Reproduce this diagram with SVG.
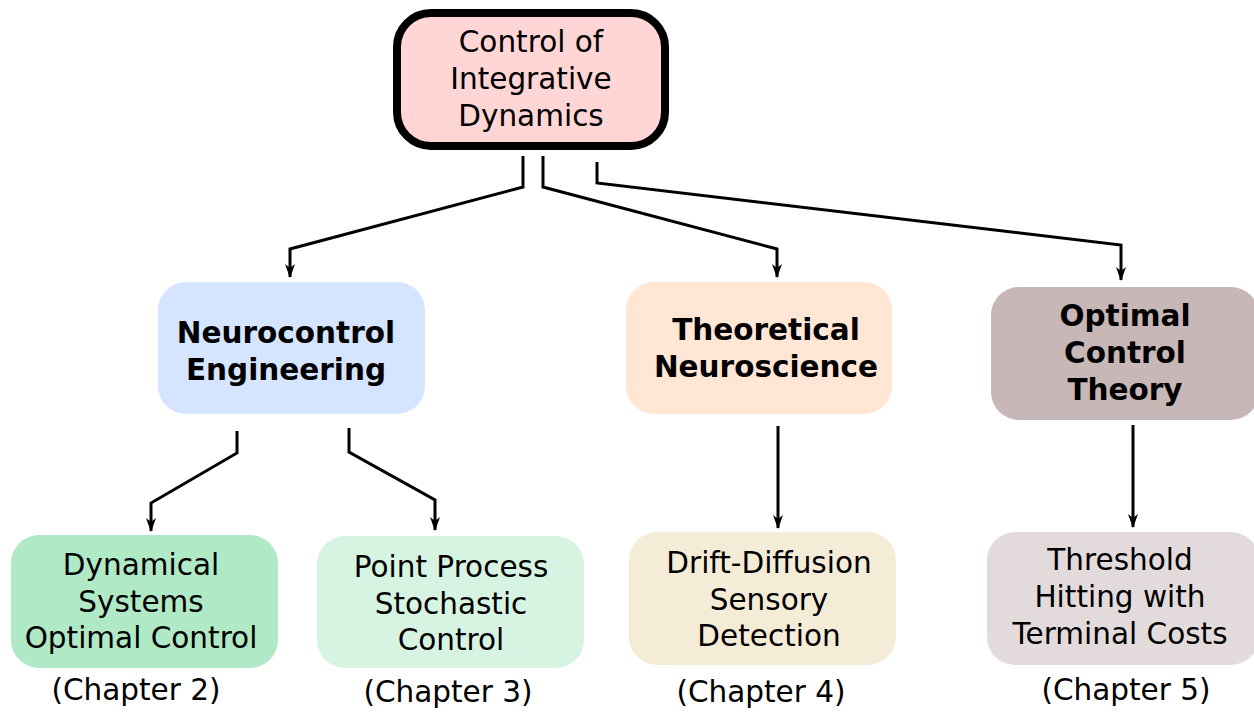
<svg xmlns="http://www.w3.org/2000/svg" width="1254" height="713" viewBox="0 0 1254 713">
<style>
text{font-family:"DejaVu Sans","Liberation Sans",sans-serif;font-size:29.5px;fill:#000;text-anchor:middle}
.b{font-weight:bold}
.c{fill:none;stroke:#000;stroke-width:3;stroke-linejoin:miter}
</style>
<defs>
<marker id="a" markerUnits="userSpaceOnUse" markerWidth="14" markerHeight="10" refX="13" refY="5" orient="auto" viewBox="0 0 14 10">
<path d="M0,0 L4,5 L0,10 L14,5 Z" fill="#000"/>
</marker>
</defs>
<g id="connectors">
<path class="c" d="M523,156 V187 L290,249 V277" marker-end="url(#a)"/>
<path class="c" d="M543,156 V187 L777,249 V277" marker-end="url(#a)"/>
<path class="c" d="M597,162 V183 L1121,245 V280" marker-end="url(#a)"/>
<path class="c" d="M237,431 V453 L151,503 V531" marker-end="url(#a)"/>
<path class="c" d="M349,428 V452 L435,500 V530" marker-end="url(#a)"/>
<path class="c" d="M778,426 V528" marker-end="url(#a)"/>
<path class="c" d="M1133,425 V527" marker-end="url(#a)"/>
</g>
<g id="root">
<rect x="397" y="13" width="268" height="133" rx="34" fill="#ffd5d5" stroke="#000" stroke-width="8"/>
<text x="531" y="52">Control of</text>
<text x="531" y="89">Integrative</text>
<text x="531" y="126">Dynamics</text>
</g>
<g id="neurocontrol">
<rect x="158" y="282" width="267" height="132" rx="28" fill="#d5e5ff"/>
<text class="b" x="286" y="343">Neurocontrol</text>
<text class="b" x="286" y="380">Engineering</text>
</g>
<g id="theoretical">
<rect x="626" y="282" width="266" height="132" rx="28" fill="#ffe6d5"/>
<text class="b" x="766" y="340">Theoretical</text>
<text class="b" x="766" y="377">Neuroscience</text>
</g>
<g id="optimal">
<rect x="991" y="287" width="268" height="133" rx="28" fill="#c8b7b7"/>
<text class="b" x="1125" y="326">Optimal</text>
<text class="b" x="1125" y="363">Control</text>
<text class="b" x="1125" y="400">Theory</text>
</g>
<g id="dynamical">
<rect x="11" y="535" width="267" height="133" rx="28" fill="#afe9c6"/>
<text x="141" y="575">Dynamical</text>
<text x="141" y="612">Systems</text>
<text x="141" y="648">Optimal Control</text>
<text x="136" y="700">(Chapter 2)</text>
</g>
<g id="pointprocess">
<rect x="317" y="536" width="267" height="132" rx="28" fill="#d7f4e3"/>
<text x="451" y="577">Point Process</text>
<text x="451" y="614">Stochastic</text>
<text x="451" y="650">Control</text>
<text x="448" y="702">(Chapter 3)</text>
</g>
<g id="drift">
<rect x="629" y="532" width="267" height="133" rx="28" fill="#f4ecd7"/>
<text x="769" y="573">Drift-Diffusion</text>
<text x="769" y="610">Sensory</text>
<text x="769" y="646">Detection</text>
<text x="761" y="702">(Chapter 4)</text>
</g>
<g id="threshold">
<rect x="987" y="532" width="272" height="133" rx="28" fill="#e3dbdb"/>
<text x="1120" y="570">Threshold</text>
<text x="1120" y="607">Hitting with</text>
<text x="1120" y="644">Terminal Costs</text>
<text x="1126" y="700">(Chapter 5)</text>
</g>
</svg>
